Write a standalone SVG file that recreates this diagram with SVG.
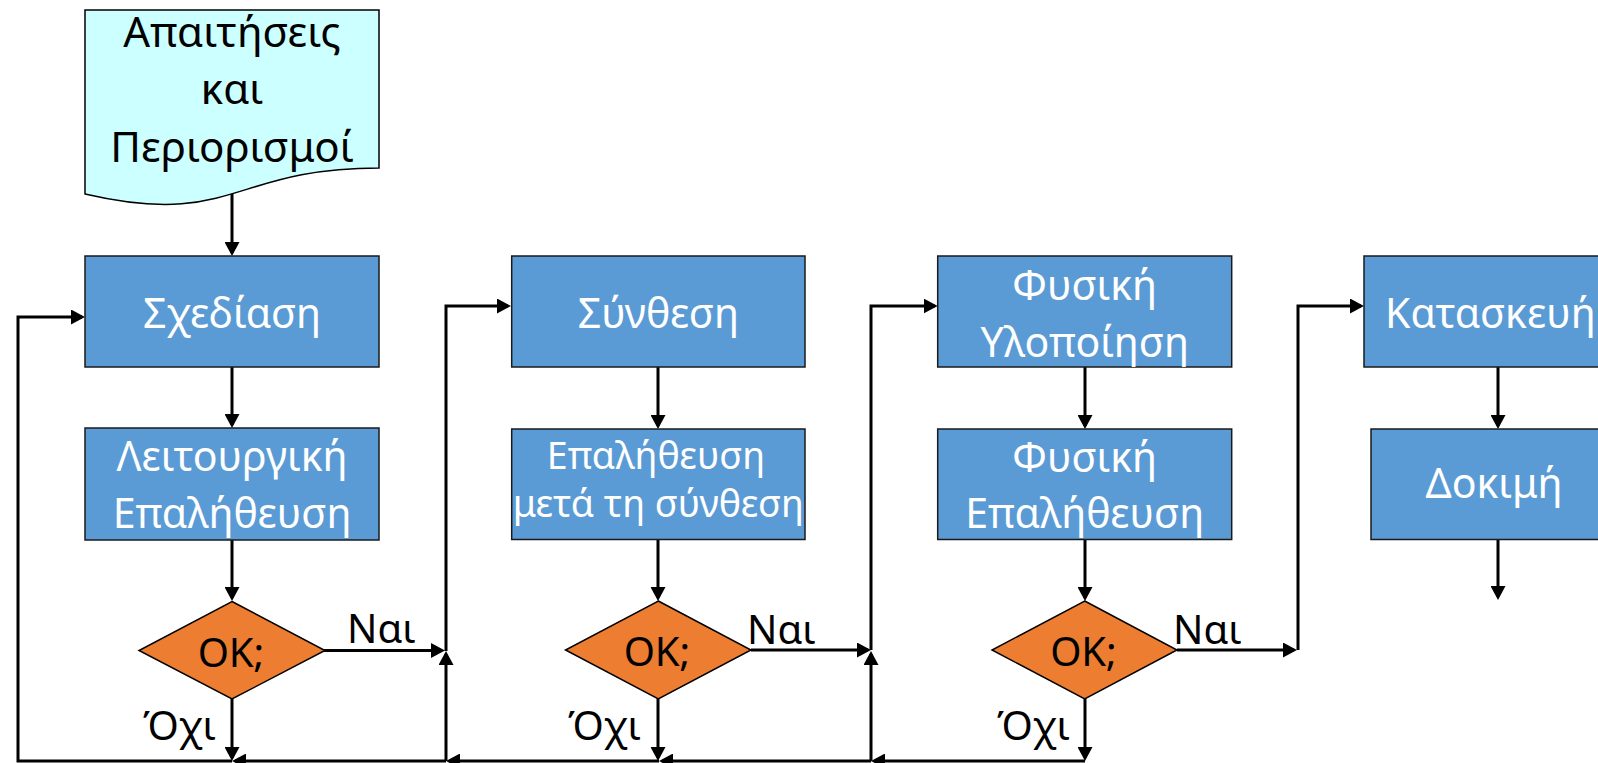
<svg xmlns="http://www.w3.org/2000/svg" width="1598" height="763" viewBox="0 0 1598 763">
<style>
.box{fill:#5B9BD5;stroke:#1a1a1a;stroke-width:1.5}
.dia{fill:#ED7D31;stroke:#000;stroke-width:1.5}
.doc{fill:#CCFFFF;stroke:#000;stroke-width:1.5}
.wt{font-family:"Noto Sans","Open Sans",sans-serif;font-size:41px;fill:#fff;text-anchor:middle}
.wts{font-family:"Noto Sans","Open Sans",sans-serif;font-size:37.5px;fill:#fff;text-anchor:middle}
.bt{font-family:"Noto Sans","Open Sans",sans-serif;font-size:40px;fill:#000}
.dt{font-family:"Noto Sans","Open Sans",sans-serif;font-size:42px;fill:#000;text-anchor:middle}
.c{fill:none;stroke:#000;stroke-width:3;marker-end:url(#ah)}
</style>
<defs>
<marker id="ah" viewBox="0 0 14 15" refX="11" refY="7.5" markerWidth="14" markerHeight="15" markerUnits="userSpaceOnUse" orient="auto"><path d="M0,0 L14,7.5 L0,15 z" fill="#000"/></marker>
</defs>
<rect width="1598" height="763" fill="#fff"/>
<g id="connectors">
<path class="c" d="M232,194 V253"/>
<path class="c" d="M232,367 V425"/>
<path class="c" d="M232,540 V598"/>
<path class="c" d="M324,650.5 H442"/>
<path class="c" d="M232,699 V758"/>
<path class="c" d="M232,761 H18 V317 H82"/>
<path class="c" d="M446,761 H235"/>
<path class="c" d="M659,761 H449"/>
<path class="c" d="M871,761 H662"/>
<path class="c" d="M1085,761 H874"/>
<path class="c" d="M446,761 V654"/>
<path class="c" d="M871,761 V654"/>
<path class="c" d="M446,651 V306 H508"/>
<path class="c" d="M658,367 V426"/>
<path class="c" d="M658,539 V598"/>
<path class="c" d="M658,699 V758"/>
<path class="c" d="M751,650 H868"/>
<path class="c" d="M871,650 V306 H934.7"/>
<path class="c" d="M1085,367 V426"/>
<path class="c" d="M1085,539 V598"/>
<path class="c" d="M1085,699 V758"/>
<path class="c" d="M1177,650 H1294"/>
<path class="c" d="M1298,650 V306 H1361"/>
<path class="c" d="M1498,367 V426"/>
<path class="c" d="M1498,539 V597"/>
</g>
<g id="n_req">
<path class="doc" d="M85,10 H379 V168 C232,168 232,228.2 85,194 Z"/>
<text class="dt" x="232" y="47">Απαιτήσεις</text>
<text class="dt" x="232" y="104">και</text>
<text class="dt" x="232" y="162">Περιορισμοί</text>
</g>
<g id="n_design">
<rect class="box" x="85" y="256" width="294" height="111"/>
<text class="wt" x="232" y="328">Σχεδίαση</text>
</g>
<g id="n_funcver">
<rect class="box" x="85" y="428" width="294" height="112"/>
<text class="wt" x="232" y="470.5">Λειτουργική</text>
<text class="wt" x="232" y="528">Επαλήθευση</text>
</g>
<g id="n_ok1">
<path class="dia" d="M232,601.5 L325,650.5 L232,699 L139,650.5 Z"/>
<text class="bt" x="231" y="666.5" text-anchor="middle">OK;</text>
</g>
<g id="n_synth">
<rect class="box" x="511.7" y="256" width="293.3" height="111"/>
<text class="wt" x="658.3" y="328">Σύνθεση</text>
</g>
<g id="n_synthver">
<rect class="box" x="511.7" y="429" width="293.3" height="110.5"/>
<text class="wts" x="656" y="469">Επαλήθευση</text>
<text class="wts" x="658.3" y="517">μετά τη σύνθεση</text>
</g>
<g id="n_ok2">
<path class="dia" d="M658.3,601 L751,650 L658.3,699 L565.5,650 Z"/>
<text class="bt" x="657" y="666" text-anchor="middle">OK;</text>
</g>
<g id="n_phys">
<rect class="box" x="937.7" y="256" width="294" height="111"/>
<text class="wt" x="1084.7" y="300">Φυσική</text>
<text class="wt" x="1084.7" y="356.5">Υλοποίηση</text>
</g>
<g id="n_physver">
<rect class="box" x="937.7" y="429" width="294" height="110.5"/>
<text class="wt" x="1084.7" y="471.5">Φυσική</text>
<text class="wt" x="1084.7" y="528">Επαλήθευση</text>
</g>
<g id="n_ok3">
<path class="dia" d="M1084.7,601 L1177,650 L1084.7,699 L992,650 Z"/>
<text class="bt" x="1083.5" y="666" text-anchor="middle">OK;</text>
</g>
<g id="n_constr">
<rect class="box" x="1364" y="256" width="270" height="111"/>
<text class="wt" x="1385" y="328" style="text-anchor:start">Κατασκευή</text>
</g>
<g id="n_test">
<rect class="box" x="1371" y="429" width="255" height="110.5"/>
<text class="wt" x="1494" y="498">Δοκιμή</text>
</g>
<g id="labels">
<text class="bt" x="347" y="643">Ναι</text>
<text class="bt" x="747" y="644">Ναι</text>
<text class="bt" x="1173" y="644">Ναι</text>
<text class="bt" x="143" y="740">Όχι</text>
<text class="bt" x="568" y="740">Όχι</text>
<text class="bt" x="997" y="740">Όχι</text>
</g>
</svg>
